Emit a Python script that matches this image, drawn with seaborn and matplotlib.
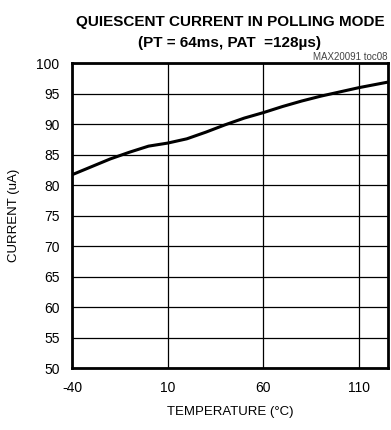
import matplotlib
matplotlib.use("Agg")
import matplotlib.pyplot as plt
import seaborn as sns
import pandas as pd

# values
temperature = [-40, -30, -20, -10, 0, 10, 20, 30, 40, 50, 60, 70, 80, 90, 100, 110, 120, 125]
current_ua = [81.7, 83.0, 84.3, 85.4, 86.4, 86.9, 87.6, 88.7, 89.9, 91.0, 91.9, 92.9, 93.8, 94.6, 95.3, 96.0, 96.6, 96.9]

x_ticks = [-40, 10, 60, 110]
y_ticks = [50, 55, 60, 65, 70, 75, 80, 85, 90, 95, 100]

sns.set_theme(style="white")
plt.rcParams['font.family'] = ['Liberation Sans', 'DejaVu Sans']
plt.rcParams['axes.unicode_minus'] = False
plt.rcParams['text.color'] = 'black'
plt.rcParams['axes.labelcolor'] = 'black'

df = pd.DataFrame({"temp": temperature, "current": current_ua})

fig = plt.figure(figsize=(3.91, 4.30), dpi=100)
ax = fig.add_axes([0.184, 0.144, 0.808, 0.709])

sns.lineplot(data=df, x="temp", y="current", ax=ax, color="black", linewidth=2.2)

ax.set_xlim(-40, 125)
ax.set_ylim(50, 100)
ax.set_xticks(x_ticks)
ax.set_yticks(y_ticks)
ax.tick_params(axis="both", length=0, labelsize=10, colors="black")
ax.tick_params(axis="x", pad=9)
ax.tick_params(axis="y", pad=9)
ax.grid(True, color="black", linewidth=0.9)
for s in ax.spines.values():
    s.set_color("black")
    s.set_linewidth(2)

ax.set_xlabel("TEMPERATURE (°C)", fontsize=9.5, labelpad=8)
ax.set_ylabel("CURRENT (uA)", fontsize=9.5, labelpad=12)

ax.set_title("QUIESCENT CURRENT IN POLLING MODE\n(PT = 64ms, PAT  =128µs)",
             fontsize=11, fontweight="bold", pad=12, linespacing=1.6)
ax.text(1.0, 1.004, "MAX20091 toc08", transform=ax.transAxes,
        ha="right", va="bottom", fontsize=7, color="#444444")

fig.savefig("out.png", dpi=100)
